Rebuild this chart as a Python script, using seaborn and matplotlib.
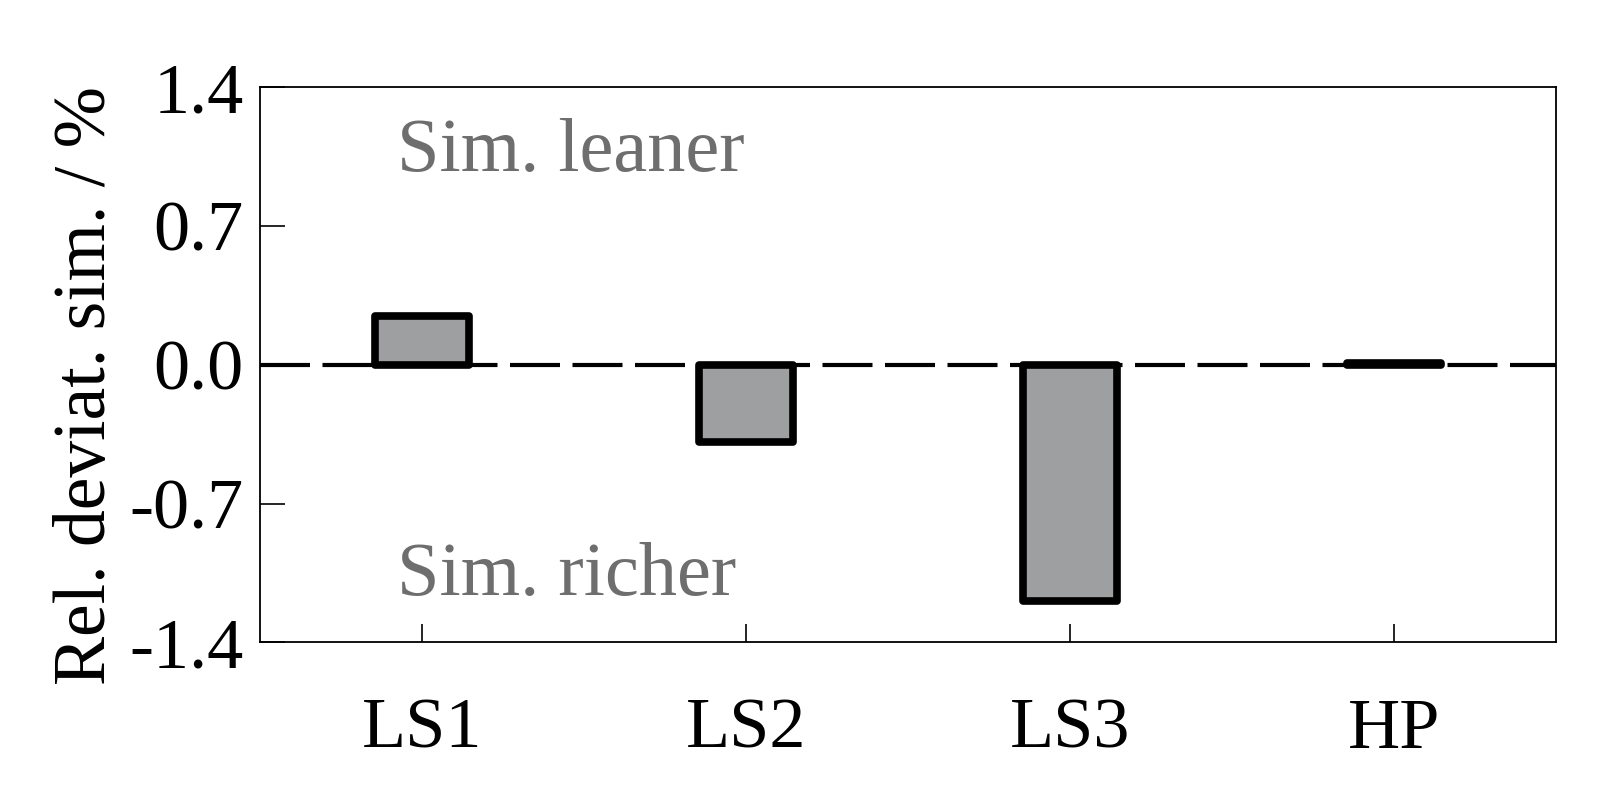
import pandas as pd
import matplotlib
matplotlib.use("Agg")
import matplotlib.pyplot as plt
import seaborn as sns

# values
cases = ["LS1", "LS2", "LS3", "HP"]
deviation = [0.245, -0.39, -1.19, 0.01]
y_ticks = [-1.4, -0.7, 0.0, 0.7, 1.4]

df = pd.DataFrame({"case": cases, "deviation": deviation})

sns.set_theme(style="white")
plt.rcParams["font.family"] = ["Liberation Serif", "DejaVu Serif"]
plt.rcParams["text.color"] = "black"
plt.rcParams["axes.labelcolor"] = "black"
plt.rcParams["xtick.color"] = "black"
plt.rcParams["ytick.color"] = "black"

fig, ax = plt.subplots(figsize=(15.98, 7.99), dpi=100)

ax.axhline(0, color="black", linewidth=3, dashes=(12, 3), zorder=1)

sns.barplot(data=df, x="case", y="deviation", ax=ax, color="#9e9fa1",
            width=0.29, edgecolor="black", linewidth=5.5, saturation=1, zorder=2)
for p in ax.patches:
    p.set_joinstyle("round")

ax.set_xlim(-0.5, 3.5)
ax.set_ylim(-1.4, 1.4)
ax.set_yticks(y_ticks)
ax.set_yticklabels([f"{t:.1f}" for t in y_ticks])
ax.set_xlabel("")
ax.set_ylabel("Rel. deviat. sim. / %", fontsize=53)
ax.yaxis.set_label_coords(-0.108, 0.462)

ax.tick_params(axis="y", direction="in", length=18, width=1.2, labelsize=52,
               left=True, right=False, pad=12)
ax.tick_params(axis="x", direction="in", length=13, width=1.2, labelsize=52,
               bottom=True, top=False, pad=40)

for s in ax.spines.values():
    s.set_linewidth(1.3)
    s.set_color("black")

ax.text(-0.08, 1.07, "Sim. leaner", fontsize=55, color="#6e6e6e", va="center", ha="left")
ax.text(-0.08, -1.07, "Sim. richer", fontsize=55, color="#6e6e6e", va="center", ha="left")

plt.subplots_adjust(left=0.163, right=0.974, top=0.891, bottom=0.196)
plt.savefig("out.png", dpi=100)
